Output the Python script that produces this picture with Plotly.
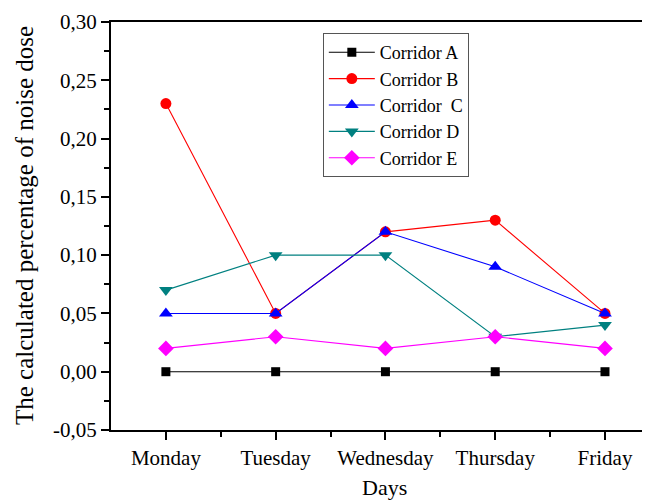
import plotly.graph_objects as go

days = ["Monday", "Tuesday", "Wednesday", "Thursday", "Friday"]
corridor_a = [0.00, 0.00, 0.00, 0.00, 0.00]
corridor_b = [0.23, 0.05, 0.12, 0.13, 0.05]
corridor_c = [0.05, 0.05, 0.12, 0.09, 0.05]
corridor_d = [0.07, 0.10, 0.10, 0.03, 0.04]
corridor_e = [0.02, 0.03, 0.02, 0.03, 0.02]
y_ticks = [-0.05, 0.00, 0.05, 0.10, 0.15, 0.20, 0.25, 0.30]
y_tick_labels = ["-0,05", "0,00", "0,05", "0,10", "0,15", "0,20", "0,25", "0,30"]

series = [
    ("Corridor A", corridor_a, "#000000", "square", 9),
    ("Corridor B", corridor_b, "#ff0000", "circle", 11),
    ("Corridor  C", corridor_c, "#0000ff", "triangle-up", 12),
    ("Corridor D", corridor_d, "#008080", "triangle-down", 12),
    ("Corridor E", corridor_e, "#ff00ff", "diamond", 12),
]

xpos = list(range(1, len(days) + 1))
fig = go.Figure()
for name, vals, color, sym, size in series:
    fig.add_trace(go.Scatter(
        x=xpos, y=vals, name=name, mode="lines+markers",
        line=dict(color=color, width=1.1),
        marker=dict(symbol=sym, size=size, color=color),
    ))

font = "Liberation Serif, Times New Roman, serif"
fig.update_layout(
    width=650, height=501,
    margin=dict(l=103, r=8, t=14, b=79),
    plot_bgcolor="white", paper_bgcolor="white",
    font=dict(family=font, size=21, color="black"),
    showlegend=True,
    legend=dict(
        x=0.393, y=0.973, xanchor="left", yanchor="top",
        bordercolor="#555555", borderwidth=1, bgcolor="white",
        font=dict(family=font, size=18, color="black"),
        tracegroupgap=0, itemwidth=46,
    ),
    xaxis=dict(
        range=[0.5, 5.41], tickmode="array", tickvals=xpos, ticktext=days,
        showline=True, linecolor="black", linewidth=2, mirror=True,
        ticks="outside", ticklen=8, tickwidth=2, tickcolor="black",
        minor=dict(tickvals=[1.5, 2.5, 3.5, 4.5], ticks="outside", ticklen=5, tickwidth=2, tickcolor="black"),
        showgrid=False, zeroline=False, automargin=False,
        tickfont=dict(family=font, size=21),
    ),
    yaxis=dict(
        range=[-0.05, 0.30], tickmode="array", tickvals=y_ticks, ticktext=y_tick_labels,
        showline=True, linecolor="black", linewidth=2, mirror=False,
        ticks="outside", ticklen=8, tickwidth=2, tickcolor="black",
        minor=dict(tickvals=[-0.025, 0.025, 0.075, 0.125, 0.175, 0.225, 0.275],
                   ticks="outside", ticklen=5, tickwidth=2, tickcolor="black"),
        showgrid=False, zeroline=False, automargin=False,
        tickfont=dict(family=font, size=21),
    ),
    annotations=[
        dict(text="Days", xref="paper", yref="paper", x=0.508, y=-0.142,
             xanchor="center", yanchor="middle", showarrow=False,
             font=dict(family=font, size=22)),
        dict(text="The calculated percentage of noise dose", xref="paper", yref="paper",
             x=-0.1614, y=0.5, xanchor="center", yanchor="middle", textangle=-90,
             showarrow=False, font=dict(family=font, size=25)),
    ],
)
fig.write_html("out.html")
